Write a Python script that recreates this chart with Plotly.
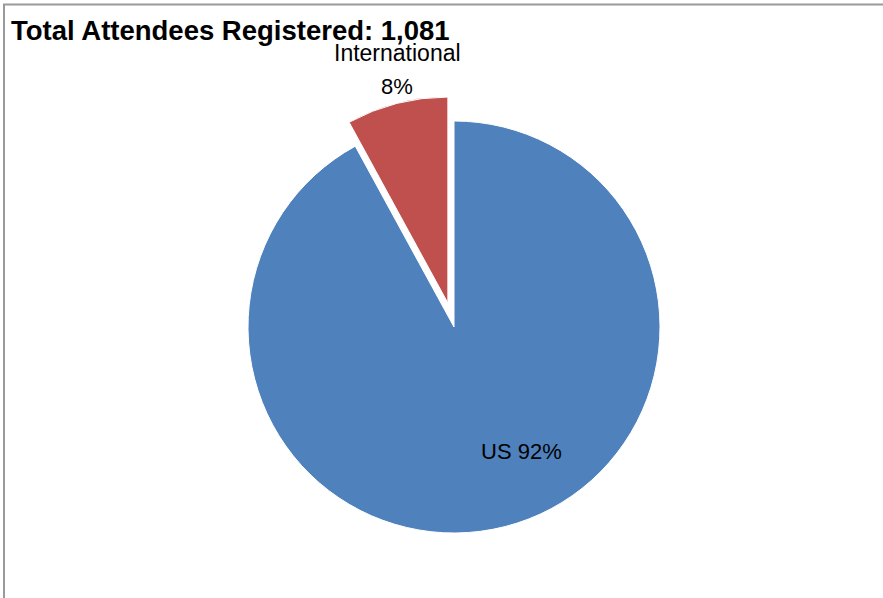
import plotly.graph_objects as go

categories = ["US", "International"]
attendees = [995, 86]
colors = ["#4F81BD", "#C0504D"]
pulls = [0, 0.12]
title_text = "Total Attendees Registered: 1,081"

total = sum(attendees)
pcts = [round(v / total * 100) for v in attendees]

fig = go.Figure(go.Pie(
    labels=categories,
    values=attendees,
    sort=False,
    direction="clockwise",
    rotation=0,
    pull=pulls,
    marker=dict(colors=colors, line=dict(color="white", width=1)),
    textinfo="none",
    hoverinfo="label+percent",
    showlegend=False,
    domain=dict(x=[0.21416, 0.81416], y=[0.06736, 0.83900]),
))

W, H = 883, 598
font = "Liberation Sans, Arial, sans-serif"

annotations = [
    dict(text=f"{categories[0]} {pcts[0]}%", x=521 / W, y=1 - 451 / H,
         font=dict(size=22, color="black", family=font)),
    dict(text=categories[1], x=397 / W, y=1 - 53 / H,
         font=dict(size=23, color="black", family=font)),
    dict(text=f"{pcts[1]}%", x=397 / W, y=1 - 86 / H,
         font=dict(size=22, color="black", family=font)),
]
for a in annotations:
    a.update(xref="paper", yref="paper", showarrow=False,
             xanchor="center", yanchor="middle")

fig.update_layout(
    width=W, height=H,
    margin=dict(l=0, r=0, t=0, b=0),
    paper_bgcolor="white",
    plot_bgcolor="white",
    title=dict(text=f"<b>{title_text}</b>", x=11 / W, xanchor="left", xref="paper",
               y=1 - 30 / H, yanchor="middle", yref="container",
               font=dict(size=27.5, color="black", family=font)),
    annotations=annotations,
    shapes=[
        dict(type="path", xref="paper", yref="paper",
             path=f"M {4/W},0 L {4/W},{1-4.5/H} L 1.01,{1-4.5/H}",
             line=dict(color="#9A9A9A", width=2)),
    ],
)

fig.write_html("out.html", config={"displayModeBar": False},
               post_script="document.body.style.margin='0';document.body.style.overflow='hidden';")
